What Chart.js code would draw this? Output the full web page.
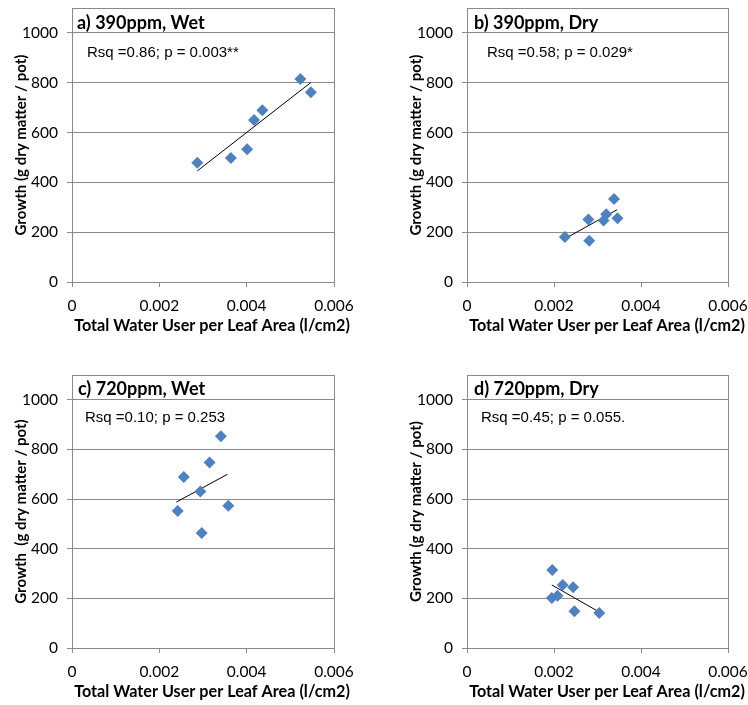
<!DOCTYPE html>
<html>
<head>
<meta charset="utf-8">
<title>Growth vs water use per leaf area</title>
<script src="https://cdn.jsdelivr.net/npm/chart.js@4.4.1/dist/chart.umd.min.js"></script>
<style>
    html, body { margin: 0; padding: 0; background: #fff; }
    #wrap { position: relative; width: 748px; height: 705px; overflow: hidden; }
    canvas { position: absolute; }
</style>
</head>
<body>
<div id="wrap">
    <canvas id="panelA" width="380" height="345" style="left:0;top:0"></canvas>
    <canvas id="panelB" width="353" height="345" style="left:395px;top:0"></canvas>
    <canvas id="panelC" width="380" height="345" style="left:0;top:360px"></canvas>
    <canvas id="panelD" width="353" height="345" style="left:395px;top:360px"></canvas>
</div>
<script>
// axis ticks shared by all four panels
const xTickValues = [0, 0.002, 0.004, 0.006];
const yTickValues = [0, 200, 400, 600, 800, 1000];
const xAxisTitle = 'Total Water User per Leaf Area (l/cm2)';

// a) 390ppm, Wet
const aWater = [0.00287, 0.00364, 0.00401, 0.00417, 0.00436, 0.00523, 0.00547];
const aGrowth = [479, 498, 533, 650, 690, 815, 762];
const aTrendX = [0.00287, 0.00547];
const aTrendY = [446, 801];

// b) 390ppm, Dry
const bWater = [0.00225, 0.00279, 0.00281, 0.00314, 0.00320, 0.00338, 0.00346];
const bGrowth = [181, 251, 166, 247, 272, 333, 256];
const bTrendX = [0.00223, 0.00345];
const bTrendY = [172, 290];

// c) 720ppm, Wet
const cWater = [0.00242, 0.00256, 0.00294, 0.00297, 0.00315, 0.00341, 0.00358];
const cGrowth = [552, 689, 631, 463, 747, 853, 573];
const cTrendX = [0.00239, 0.00356];
const cTrendY = [588, 700];

// d) 720ppm, Dry
const dWater = [0.00196, 0.00195, 0.00208, 0.00220, 0.00244, 0.00247, 0.00304];
const dGrowth = [314, 201, 211, 254, 245, 148, 141];
const dTrendX = [0.00195, 0.00304];
const dTrendY = [254, 145];

const GRID = '#8a8a8a';
const TEXT = '#000';
const LABEL_FONT = 'Lato, "Liberation Sans", sans-serif';
const NOTE_FONT = '"Liberation Sans", Arial, sans-serif';

// draws the box round the plot area, the panel title, the regression note
// and the x axis title (sits a little right of the plot centre, as in Excel)
const panelText = {
    id: 'panelText',
    afterDraw(chart, args, opts) {
        const { ctx, chartArea: a } = chart;
        ctx.save();
        ctx.strokeStyle = GRID;
        ctx.lineWidth = 1;
        ctx.strokeRect(Math.round(a.left) + 0.5, Math.round(a.top) + 0.5,
            Math.round(a.right - a.left), Math.round(a.bottom - a.top));
        ctx.fillStyle = TEXT;
        ctx.textBaseline = 'middle';
        ctx.textAlign = 'left';
        ctx.font = 'bold 18px ' + LABEL_FONT;
        ctx.fillText(opts.title, a.left + opts.titleDx, a.top + opts.titleDy);
        ctx.font = '15px ' + NOTE_FONT;
        ctx.fillText(opts.note, a.left + opts.noteDx, a.top + opts.noteDy);
        ctx.textAlign = 'center';
        ctx.font = 'bold 16.2px ' + LABEL_FONT;
        ctx.fillText(xAxisTitle, a.left + 140, a.bottom + 43.5);
        ctx.restore();
    }
};

function toPoints(xs, ys) {
    return xs.map((x, i) => ({ x: x, y: ys[i] }));
}

function makePanel(id, p) {
    const ctx = document.getElementById(id);
    return new Chart(ctx, {
        type: 'scatter',
        data: {
            datasets: [{
                data: toPoints(p.xs, p.ys),
                pointStyle: 'rectRot',
                pointRadius: 6,
                backgroundColor: '#4f81bd',
                borderColor: '#4f81bd',
                borderWidth: 0
            }, {
                data: toPoints(p.tx, p.ty),
                showLine: true,
                borderColor: '#000',
                borderWidth: 1,
                pointRadius: 0
            }]
        },
        options: {
            responsive: false,
            animation: false,
            layout: { padding: { top: p.padTop, right: p.padRight, left: 0, bottom: 0 } },
            plugins: {
                legend: { display: false },
                tooltip: { enabled: false },
                panelText: {
                    title: p.title, note: p.note,
                    titleDx: p.titleDx, titleDy: p.titleDy,
                    noteDx: p.noteDx, noteDy: p.noteDy
                }
            },
            scales: {
                x: {
                    type: 'linear',
                    min: 0,
                    max: 0.006,
                    afterBuildTicks: s => { s.ticks = xTickValues.map(v => ({ value: v })); },
                    afterFit: s => {
                        s.height = p.xHeight;
                        s.paddingLeft = 0;
                        s.paddingRight = 0;
                    },
                    ticks: {
                        color: TEXT,
                        font: { family: LABEL_FONT, size: 15.5 },
                        padding: 10,
                        maxRotation: 0,
                        callback: v => v === 0 ? '0' : v.toFixed(3)
                    },
                    grid: { drawOnChartArea: false, tickLength: 5, color: GRID },
                    border: { color: GRID }
                },
                y: {
                    min: 0,
                    max: 1100,
                    afterBuildTicks: s => {
                        s.ticks = yTickValues.concat([1100]).map(v => ({ value: v }));
                    },
                    afterFit: s => {
                        s.width = 72;
                        s.paddingTop = 0;
                        s.paddingBottom = 0;
                    },
                    ticks: {
                        color: TEXT,
                        font: { family: LABEL_FONT, size: 15.5 },
                        padding: 9,
                        callback: v => v > 1000 ? '' : String(v)
                    },
                    grid: {
                        color: GRID,
                        tickLength: 5,
                        tickColor: c => (c.tick && c.tick.value > 1000) ? 'rgba(0,0,0,0)' : GRID
                    },
                    border: { color: GRID },
                    title: {
                        display: true,
                        text: p.yTitle,
                        color: TEXT,
                        font: { family: LABEL_FONT, size: 15, weight: 'bold' },
                        padding: { top: 12, bottom: 0 }
                    }
                }
            }
        },
        plugins: [panelText]
    });
}

document.addEventListener('DOMContentLoaded', () => {
    makePanel('panelA', {
        xs: aWater, ys: aGrowth, tx: aTrendX, ty: aTrendY,
        title: 'a) 390ppm, Wet', note: 'Rsq =0.86; p = 0.003**',
        yTitle: 'Growth (g dry matter / pot)',
        padTop: 8, padRight: 46, xHeight: 63,
        titleDx: 5, titleDy: 15, noteDx: 15, noteDy: 45
    });
    makePanel('panelB', {
        xs: bWater, ys: bGrowth, tx: bTrendX, ty: bTrendY,
        title: 'b) 390ppm, Dry', note: 'Rsq =0.58; p = 0.029*',
        yTitle: 'Growth (g dry matter / pot)',
        padTop: 8, padRight: 20, xHeight: 63,
        titleDx: 7, titleDy: 15, noteDx: 20, noteDy: 45
    });
    makePanel('panelC', {
        xs: cWater, ys: cGrowth, tx: cTrendX, ty: cTrendY,
        title: 'c) 720ppm, Wet', note: 'Rsq =0.10; p = 0.253',
        yTitle: 'Growth  (g dry matter / pot)',
        padTop: 15, padRight: 46, xHeight: 57,
        titleDx: 6, titleDy: 14, noteDx: 13, noteDy: 43
    });
    makePanel('panelD', {
        xs: dWater, ys: dGrowth, tx: dTrendX, ty: dTrendY,
        title: 'd) 720ppm, Dry', note: 'Rsq =0.45; p = 0.055.',
        yTitle: 'Growth (g dry matter / pot)',
        padTop: 15, padRight: 20, xHeight: 57,
        titleDx: 7, titleDy: 14, noteDx: 14, noteDy: 43
    });
});
</script>
</body>
</html>
